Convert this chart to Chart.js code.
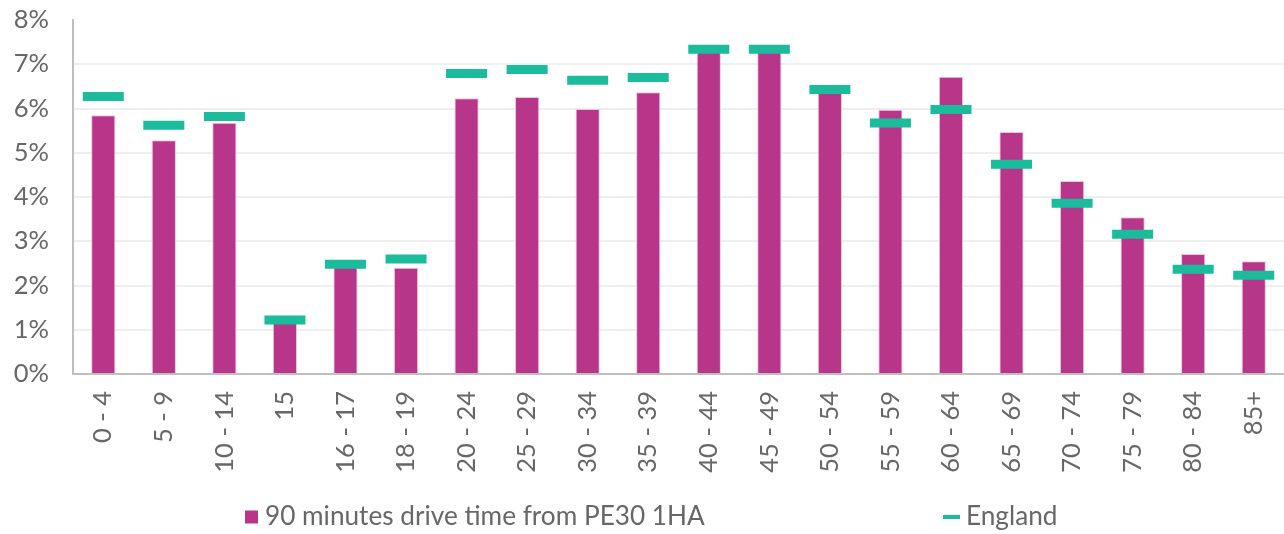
<!DOCTYPE html>
<html>
<head>
<meta charset="utf-8">
<script src="https://cdn.jsdelivr.net/npm/chart.js@4.4.1/dist/chart.umd.min.js"></script>
<style>
  html, body { margin: 0; padding: 0; background: #ffffff; }
  #wrap { width: 1284px; height: 534px; position: relative; }
</style>
</head>
<body>
<div id="wrap"><canvas id="c"></canvas></div>
<script>
// Age bands on the x axis
const ageBands = ['0 - 4', '5 - 9', '10 - 14', '15', '16 - 17', '18 - 19', '20 - 24', '25 - 29',
  '30 - 34', '35 - 39', '40 - 44', '45 - 49', '50 - 54', '55 - 59', '60 - 64', '65 - 69',
  '70 - 74', '75 - 79', '80 - 84', '85+'];

// Share of population (%) within a 90 minute drive of PE30 1HA
const driveTimeShare = [5.85, 5.28, 5.68, 1.17, 2.42, 2.40, 6.23, 6.26, 5.99, 6.37,
  7.28, 7.28, 6.38, 5.97, 6.72, 5.47, 4.36, 3.54, 2.71, 2.55];

// Share of population (%) for England as a whole
const englandShare = [6.27, 5.62, 5.82, 1.22, 2.48, 2.60, 6.79, 6.88, 6.64, 6.70,
  7.34, 7.34, 6.43, 5.67, 5.98, 4.74, 3.86, 3.16, 2.37, 2.23];

// Y axis tick values (percent)
const yTicks = [0, 1, 2, 3, 4, 5, 6, 7, 8];

const seriesNames = ['90 minutes drive time from PE30 1HA', 'England'];

const FONT = 'Lato, "DejaVu Sans", sans-serif';
const TEXT = '#676767';
const BAR = '#B8368A';
const TEAL = '#1ABC9C';

// Legend drawn below the plot with items placed apart
const spacedLegend = {
  id: 'spacedLegend',
  afterDraw(chart, args, opts) {
    const ctx = chart.ctx;
    ctx.save();
    ctx.font = opts.fontSize + 'px ' + FONT;
    ctx.textBaseline = 'middle';
    const y = opts.y;
    chart.data.datasets.forEach((ds, i) => {
      const x = opts.xs[i];
      if (ds.type === 'line') {
        ctx.strokeStyle = ds.borderColor;
        ctx.lineWidth = 4;
        ctx.beginPath();
        ctx.moveTo(x, y);
        ctx.lineTo(x + 17, y);
        ctx.stroke();
        ctx.fillStyle = TEXT;
        ctx.fillText(ds.label, x + 23, y);
      } else {
        ctx.fillStyle = ds.backgroundColor;
        ctx.fillRect(x, y - 6.5, 13, 13);
        ctx.fillStyle = TEXT;
        ctx.fillText(ds.label, x + 20, y);
      }
    });
    ctx.restore();
  }
};

new Chart(document.getElementById('c'), {
  data: {
    labels: ageBands,
    datasets: [
      {
        type: 'bar',
        label: seriesNames[0],
        data: driveTimeShare,
        backgroundColor: BAR,
        borderColor: 'rgba(236,190,220,0.9)',
        borderWidth: { top: 1, left: 1, right: 1, bottom: 0 },
        barPercentage: 0.4,
        categoryPercentage: 1.0,
        order: 2
      },
      {
        type: 'line',
        label: seriesNames[1],
        data: englandShare,
        showLine: false,
        borderColor: TEAL,
        backgroundColor: TEAL,
        pointStyle: 'line',
        pointRadius: 20.5,
        pointHoverRadius: 20.5,
        pointBorderWidth: 9,
        pointHoverBorderWidth: 9,
        pointBorderColor: TEAL,
        order: 1,
        clip: false
      }
    ]
  },
  options: {
    responsive: true,
    maintainAspectRatio: false,
    animation: false,
    layout: { autoPadding: false, padding: { top: 20, bottom: 60, left: 0, right: 0 } },
    plugins: {
      legend: { display: false },
      tooltip: { enabled: false },
      spacedLegend: { xs: [245, 943], y: 517, fontSize: 26.2 }
    },
    scales: {
      x: {
        offset: true,
        grid: { display: false, drawTicks: false },
        border: { display: true, color: '#bfbfbf', width: 2 },
        ticks: {
          color: TEXT,
          font: { family: FONT, size: 25.5 },
          minRotation: 90,
          maxRotation: 90,
          autoSkip: false,
          padding: 17
        },
        afterFit(scale) {
          scale.height = 100;
          scale.paddingLeft = 0;
          scale.paddingRight = 0;
        }
      },
      y: {
        min: yTicks[0],
        max: yTicks[yTicks.length - 1],
        afterBuildTicks(scale) { scale.ticks = yTicks.map(v => ({ value: v })); },
        grid: {
          drawTicks: false,
          color: (c) => (c.tick && c.tick.value === yTicks[yTicks.length - 1]) ? 'rgba(0,0,0,0)' : '#efefef',
          lineWidth: 2
        },
        border: { display: true, color: '#bfbfbf', width: 2 },
        ticks: {
          color: TEXT,
          font: { family: FONT, size: 25.5 },
          padding: 24,
          callback: (v) => v + '%'
        },
        afterFit(scale) {
          scale.width = 73;
          scale.paddingTop = 0;
          scale.paddingBottom = 0;
        }
      }
    }
  },
  plugins: [spacedLegend]
});
</script>
</body>
</html>
